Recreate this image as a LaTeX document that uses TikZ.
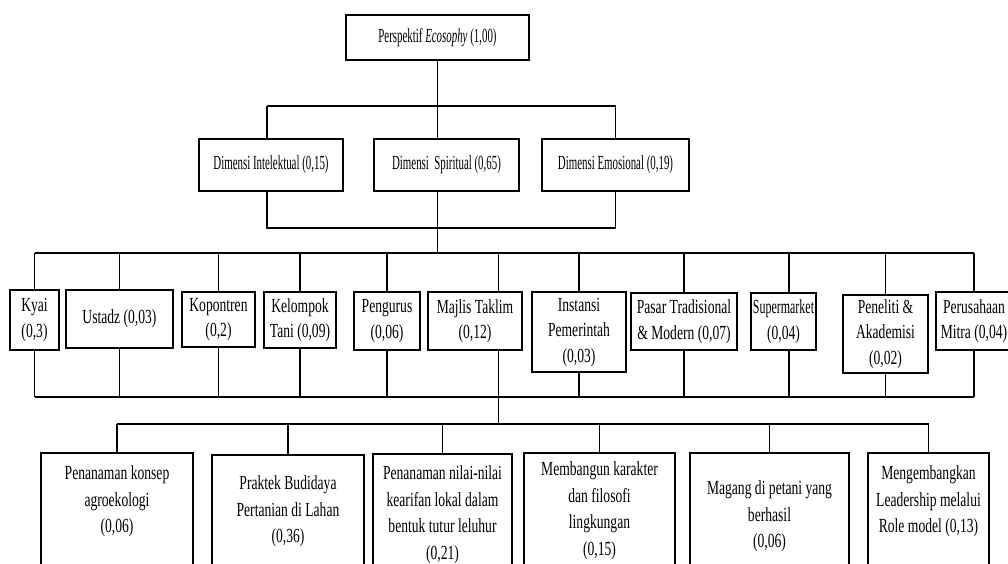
\documentclass[tikz,border=0pt]{standalone}
\usepackage{fontspec}
\usepackage{graphicx}
\setmainfont{Liberation Serif}[FakeStretch=0.68]

\tikzset{
  box/.style={draw, line width=1.6pt, inner sep=1pt, align=center, font=\fontsize{20}{25.5}\selectfont},
  taskbox/.style={draw, line width=1.6pt, inner sep=2pt, anchor=north, font=\fontsize{20}{26.5}\selectfont},
  link/.style={line width=1.3pt},
}
\newcommand{\narrowtext}[1]{\scalebox{0.8}[1]{#1}}

\begin{document}
\begin{tikzpicture}[x=1pt, y=-1pt]
  \fill[white] (0,0) rectangle (1008,563);
  \useasboundingbox (0,0) rectangle (1008,563);

  % levels of the buses
  \coordinate (bus1) at (0,106);
  \coordinate (bus2) at (0,228);
  \coordinate (bus3) at (0,253);
  \coordinate (bus4) at (0,397);
  \coordinate (bus5) at (0,424);
  \coordinate (dix) at (267,0);
  \coordinate (mjx) at (498.5,0);
  \coordinate (smx) at (789,0);

  % goal
  \node[box, minimum width=183, minimum height=45] (top) at (437.5,37.5) {\narrowtext{Perspektif \textit{Ecosophy} (1,00)}};

  % dimensions
  \node[box, minimum width=144, minimum height=52] (di) at (271,165) {\narrowtext{Dimensi Intelektual (0,15)}};
  \node[box, minimum width=145, minimum height=52] (ds) at (446.5,165) {\narrowtext{Dimensi\ \ Spiritual (0,65)}};
  \node[box, minimum width=147, minimum height=52] (de) at (615.5,165) {\narrowtext{Dimensi Emosional (0,19)}};

  % actors
  \node[box, minimum width=49, minimum height=60] (kyai) at (34.5,320) {Kyai\\(0,3)};
  \node[box, minimum width=107, minimum height=58] (ustadz) at (119.5,319) {Ustadz (0,03)};
  \node[box, minimum width=73, minimum height=55] (kopontren) at (218.5,319.5) {Kopontren\\(0,2)};
  \node[box, minimum width=72, minimum height=56] (tani) at (300,320) {Kelompok\\Tani (0,09)};
  \node[box, minimum width=66, minimum height=58] (pengurus) at (387,321) {Pengurus\\(0,06)};
  \node[box, minimum width=94, minimum height=58] (majlis) at (475,321) {Majlis Taklim\\(0,12)};
  \node[box, minimum width=94, minimum height=80] (instansi) at (579,332) {Instansi\\Pemerintah\\(0,03)};
  \node[box, minimum width=106, minimum height=57] (pasar) at (684,321.5) {Pasar Tradisional\\\& Modern (0,07)};
  \node[box, minimum width=65, minimum height=57] (super) at (783.5,321.5) {\scalebox{0.88}[1]{Supermarket}\\(0,04)};
  \node[box, minimum width=85, minimum height=78] (peneliti) at (885.5,334) {Peneliti \&\\Akademisi\\(0,02)};
  \node[box, minimum width=76, minimum height=58] (mitra) at (974,321) {Perusahaan\\Mitra (0,04)};

  % programmes
  \node[taskbox] (ta) at (117,452) {\parbox[t][120pt][t]{148pt}{\centering\vspace{11pt}Penanaman konsep\\agroekologi\\(0,06)}};
  \node[taskbox] (tb) at (288,454) {\parbox[t][120pt][t]{148pt}{\centering\vspace{19pt}Praktek Budidaya\\Pertanian di Lahan\\(0,36)}};
  \node[taskbox] (tc) at (442.5,453) {\parbox[t][120pt][t]{135pt}{\centering\vspace{10pt}Penanaman nilai-nilai\\kearifan lokal dalam\\bentuk tutur leluhur\\(0,21)}};
  \node[taskbox] (td) at (599.5,452) {\parbox[t][120pt][t]{147pt}{\centering\vspace{7pt}Membangun karakter\\dan filosofi\\lingkungan\\(0,15)}};
  \node[taskbox] (te) at (769.5,452) {\parbox[t][120pt][t]{155pt}{\centering\vspace{26pt}Magang di petani yang\\berhasil\\(0,06)}};
  \node[taskbox] (tf) at (928.5,452) {\parbox[t][120pt][t]{117pt}{\centering\vspace{11pt}Mengembangkan\\Leadership melalui\\Role model (0,13)}};

  % goal to dimensions
  \draw[link] (top.south) -- (top.south |- bus1);
  \draw[link] (dix |- bus1) -- (de.north |- bus1);
  \draw[link] (dix |- bus1) -- (dix |- di.north);
  \draw[link] (top.south |- bus1) -- (top.south |- ds.north);
  \draw[link] (de.north |- bus1) -- (de.north);

  % dimensions to actors
  \draw[link] (dix |- di.south) -- (dix |- bus2) -- (de.south |- bus2) -- (de.south);
  \draw[link] (top.south |- ds.south) -- (top.south |- bus3);
  \draw[link] (kyai.north |- bus3) -- (mitra.north |- bus3);
  \draw[link] (kyai.north) -- (kyai.north |- bus3);
  \draw[link] (ustadz.north) -- (ustadz.north |- bus3);
  \draw[link] (kopontren.north) -- (kopontren.north |- bus3);
  \draw[link] (tani.north) -- (tani.north |- bus3);
  \draw[link] (pengurus.north) -- (pengurus.north |- bus3);
  \draw[link] (mjx |- majlis.north) -- (mjx |- bus3);
  \draw[link] (instansi.north) -- (instansi.north |- bus3);
  \draw[link] (pasar.north) -- (pasar.north |- bus3);
  \draw[link] (smx |- super.north) -- (smx |- bus3);
  \draw[link] (peneliti.north) -- (peneliti.north |- bus3);
  \draw[link] (mitra.north) -- (mitra.north |- bus3);

  % actors to programmes
  \draw[link] (kyai.south |- bus4) -- (mitra.south |- bus4);
  \draw[link] (kyai.south) -- (kyai.south |- bus4);
  \draw[link] (ustadz.south) -- (ustadz.south |- bus4);
  \draw[link] (kopontren.south) -- (kopontren.south |- bus4);
  \draw[link] (tani.south) -- (tani.south |- bus4);
  \draw[link] (pengurus.south) -- (pengurus.south |- bus4);
  \draw[link] (instansi.south) -- (instansi.south |- bus4);
  \draw[link] (pasar.south) -- (pasar.south |- bus4);
  \draw[link] (smx |- super.south) -- (smx |- bus4);
  \draw[link] (peneliti.south) -- (peneliti.south |- bus4);
  \draw[link] (mitra.south) -- (mitra.south |- bus4);
  \draw[link] (mjx |- majlis.south) -- (mjx |- bus5);
  \draw[link] (ta.north |- bus5) -- (tf.north |- bus5);
  \draw[link] (ta.north) -- (ta.north |- bus5);
  \draw[link] (tb.north) -- (tb.north |- bus5);
  \draw[link] (tc.north) -- (tc.north |- bus5);
  \draw[link] (td.north) -- (td.north |- bus5);
  \draw[link] (te.north) -- (te.north |- bus5);
  \draw[link] (tf.north) -- (tf.north |- bus5);

\end{tikzpicture}
\end{document}
